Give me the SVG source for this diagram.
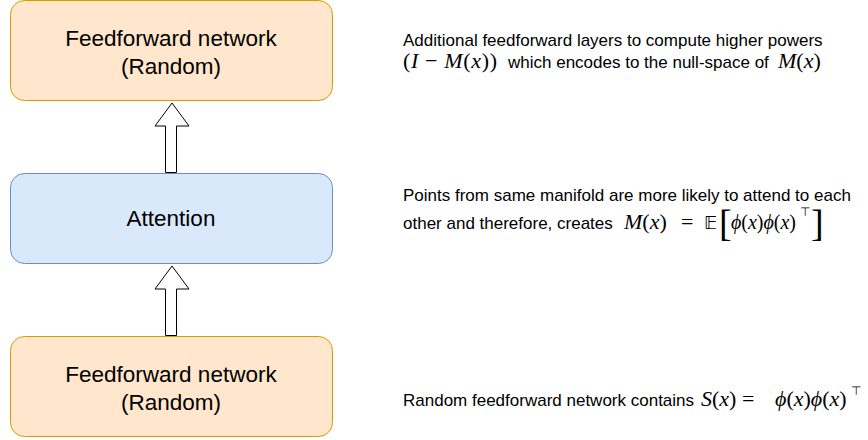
<svg xmlns="http://www.w3.org/2000/svg" width="868" height="440" viewBox="0 0 868 440">
<style>
.ff{fill:#ffe6cc;stroke:#d79b00;stroke-width:1}
.att{fill:#dae8fc;stroke:#6c8ebf;stroke-width:1}
.lbl{font-family:"Liberation Sans",Arial,sans-serif;font-size:22.5px;fill:#000;text-anchor:middle}
.note{font-family:"Liberation Sans",Arial,sans-serif;font-size:17px;fill:#000}
.m{font-family:"Liberation Serif","DejaVu Serif",serif;font-size:22px;fill:#000}
.mi{font-style:italic}
.br{font-family:"Liberation Serif",serif;font-size:38px;fill:#000}
.sym{font-family:"DejaVu Sans",sans-serif;fill:#000}
.arrow{fill:#fff;stroke:#000;stroke-width:1;stroke-linejoin:miter}
</style>
<rect width="868" height="440" fill="#fff"/>
<g id="connectors">
<polygon class="arrow" points="172,103 189,126 176.5,126 176.5,172.5 165.5,172.5 165.5,126 155,126"/>
<polygon class="arrow" points="172,266 189,289 176.5,289 176.5,335.5 165.5,335.5 165.5,289 155,289"/>
</g>
<g id="ff-top">
<rect class="ff" x="10.5" y="0.5" width="322" height="100" rx="14"/>
<text class="lbl" x="171" y="46">Feedforward network</text>
<text class="lbl" x="171" y="74">(Random)</text>
</g>
<g id="attention">
<rect class="att" x="10.5" y="173.5" width="322" height="90" rx="14"/>
<text class="lbl" x="171" y="226">Attention</text>
</g>
<g id="ff-bottom">
<rect class="ff" x="10.5" y="336.5" width="322" height="100" rx="14"/>
<text class="lbl" x="171" y="382">Feedforward network</text>
<text class="lbl" x="171" y="410">(Random)</text>
</g>
<g id="note-top">
<text class="note" x="403" y="46">Additional feedforward layers to compute higher powers</text>
<text class="m" x="403" y="68" textLength="94">(<tspan class="mi">I</tspan> − <tspan class="mi">M</tspan>(<tspan class="mi">x</tspan>))</text>
<text class="note" x="508" y="68">which encodes to the null-space of</text>
<text class="m" x="778" y="68"><tspan class="mi">M</tspan>(<tspan class="mi">x</tspan>)</text>
</g>
<g id="note-attention">
<text class="note" x="403" y="201">Points from same manifold are more likely to attend to each</text>
<text class="note" x="403" y="229">other and therefore, creates</text>
<text class="m" x="624" y="229"><tspan class="mi">M</tspan>(<tspan class="mi">x</tspan>)</text>
<text class="m" x="681" y="229">=</text>
<text class="sym" x="704" y="229" font-size="18">𝔼</text>
<text class="br" x="719" y="236">[</text>
<text class="m" x="731" y="229" font-size="20" textLength="65" lengthAdjust="spacingAndGlyphs"><tspan class="mi">ϕ</tspan>(<tspan class="mi">x</tspan>)<tspan class="mi">ϕ</tspan>(<tspan class="mi">x</tspan>)</text>
<text class="sym" x="800" y="216" font-size="12">⊤</text>
<text class="br" x="811" y="236">]</text>
</g>
<g id="note-bottom">
<text class="note" x="403" y="406">Random feedforward network contains</text>
<text class="m" x="701" y="406"><tspan class="mi">S</tspan>(<tspan class="mi">x</tspan>) =</text>
<text class="m" x="775" y="406"><tspan class="mi">ϕ</tspan>(<tspan class="mi">x</tspan>)<tspan class="mi">ϕ</tspan>(<tspan class="mi">x</tspan>)</text>
<text class="sym" x="851" y="395" font-size="12">⊤</text>
</g>
</svg>
